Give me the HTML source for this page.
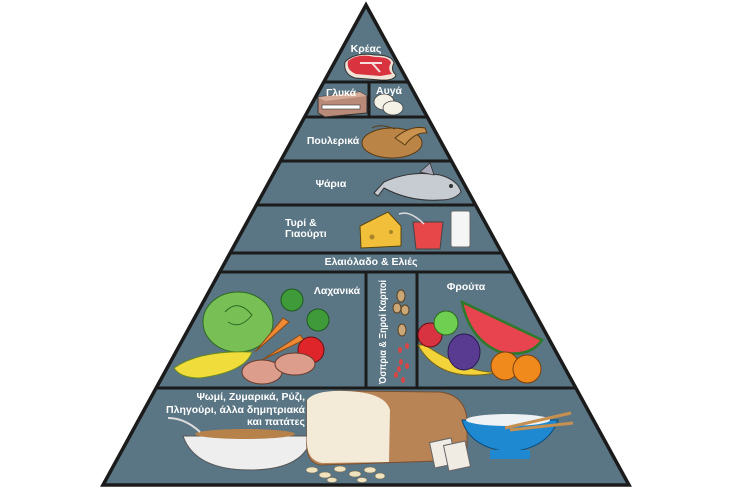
<!DOCTYPE html>
<html><head><meta charset="utf-8"><style>
html,body{margin:0;padding:0;background:#fff;width:730px;height:495px;overflow:hidden}
svg{display:block}
text{font-family:"Liberation Sans","DejaVu Sans",sans-serif;font-weight:bold;fill:#fff;font-size:10.5px}
</style></head><body>
<svg width="730" height="495" viewBox="0 0 730 495" xmlns="http://www.w3.org/2000/svg">
<defs><clipPath id="tri"><polygon points="366,5 103,485 629,485"/></clipPath></defs>
<polygon points="366,5 103,485 629,485" fill="#5a7584"/>
<g clip-path="url(#tri)" stroke="#1b1b1b" stroke-width="3">
<line x1="0" y1="82" x2="730" y2="82"/>
<line x1="0" y1="117" x2="730" y2="117"/>
<line x1="0" y1="161" x2="730" y2="161"/>
<line x1="0" y1="205" x2="730" y2="205"/>
<line x1="0" y1="253" x2="730" y2="253"/>
<line x1="0" y1="272" x2="730" y2="272"/>
<line x1="0" y1="388" x2="730" y2="388"/>
<line x1="369" y1="82" x2="369" y2="117"/>
<line x1="366" y1="272" x2="366" y2="388"/>
<line x1="417" y1="272" x2="417" y2="388"/>
</g>
<polygon points="366,5 103,485 629,485" fill="none" stroke="#1b1b1b" stroke-width="3.5" stroke-linejoin="miter"/>

<!-- steak -->
<path d="M345,62 Q355,52 375,55 Q392,55 394,63 Q390,70 396,75 Q394,81 380,80 L355,78 Q343,74 345,62Z" fill="#f1e3d8" stroke="#333" stroke-width="1"/>
<path d="M348,61 Q358,53 375,57 Q390,57 391,63 Q387,69 392,74 L380,76 L356,74 Q346,70 348,61Z" fill="#d8333f"/>
<path d="M360,63 L382,63 M372,63 L380,72" stroke="#f6dede" stroke-width="2" fill="none"/>
<!-- chocolate -->
<polygon points="318,97 360,92 367,96 367,113 325,117 318,113" fill="#b98a78" stroke="#333" stroke-width="1"/>
<polygon points="318,97 360,92 367,96 325,101" fill="#d6ab98"/>
<rect x="322" y="105" width="38" height="4" fill="#fff" stroke="#333" stroke-width=".6"/>
<!-- eggs -->
<ellipse cx="384" cy="102" rx="10" ry="8" fill="#f4f1e6" stroke="#444" stroke-width=".8"/>
<ellipse cx="393" cy="108" rx="10" ry="7" fill="#f4f1e6" stroke="#444" stroke-width=".8"/>
<!-- turkey -->
<ellipse cx="392" cy="143" rx="30" ry="15" fill="#b98445" stroke="#5a3a15" stroke-width="1"/>
<path d="M395,138 Q410,125 425,128 L427,133 Q415,132 405,145Z" fill="#c9924e" stroke="#5a3a15" stroke-width="1"/>
<path d="M372,128 Q380,123 395,129" stroke="#5a3a15" fill="none"/>
<!-- fish -->
<path d="M374,193 L384,182 Q410,170 440,175 Q458,180 461,192 Q455,200 440,200 Q410,202 384,188 L378,196Z" fill="#c7ccd3" stroke="#333" stroke-width="1"/>
<path d="M420,172 L430,163 L434,175Z" fill="#aab" stroke="#333" stroke-width=".8"/>
<circle cx="451" cy="186" r="2" fill="#333"/>
<!-- cheese/cup/milk -->
<polygon points="360,226 388,212 401,226 401,246 361,248" fill="#f1bf3a" stroke="#5a4510" stroke-width="1"/>
<circle cx="372" cy="237" r="2.5" fill="#a8852a"/><circle cx="391" cy="232" r="2" fill="#a8852a"/>
<path d="M413,222 L443,222 L440,249 L416,249Z" fill="#e8474a" stroke="#444" stroke-width="1"/>
<path d="M399,214 Q410,210 424,224" stroke="#ddd" stroke-width="1.5" fill="none"/>
<rect x="451" y="211" width="19" height="36" rx="2" fill="#f5f5f5" stroke="#666" stroke-width="1"/>
<!-- vegetables -->
<ellipse cx="238" cy="322" rx="35" ry="30" fill="#78bf55" stroke="#2e6a20" stroke-width="1"/>
<path d="M225,312 Q238,298 252,315 Q240,330 228,322" fill="none" stroke="#2e6a20"/>
<circle cx="292" cy="300" r="11" fill="#3f9a3a" stroke="#1f5a1d"/>
<circle cx="318" cy="320" r="11" fill="#3f9a3a" stroke="#1f5a1d"/>
<path d="M255,352 L283,318 L289,322Z" fill="#ee8a35" stroke="#8a4a15"/>
<path d="M262,360 L300,335 L304,340Z" fill="#ee8a35" stroke="#8a4a15"/>
<circle cx="311" cy="350" r="13" fill="#e0252a" stroke="#6a1010"/>
<path d="M174,368 Q200,350 252,352 Q245,372 200,378 Q180,378 174,368Z" fill="#f0dc3a" stroke="#6a8a20"/>
<ellipse cx="262" cy="372" rx="20" ry="12" fill="#dc9d8c" stroke="#6a3a2a"/>
<ellipse cx="295" cy="364" rx="20" ry="11" fill="#dc9d8c" stroke="#6a3a2a"/>
<!-- legumes -->
<ellipse cx="401" cy="296" rx="4" ry="6" fill="#c9a777" stroke="#5a4020"/>
<ellipse cx="397" cy="308" rx="4" ry="5" fill="#c9a777" stroke="#5a4020"/>
<ellipse cx="405" cy="310" rx="4" ry="5" fill="#c9a777" stroke="#5a4020"/>
<ellipse cx="402" cy="330" rx="4" ry="6" fill="#c9a777" stroke="#5a4020"/>
<g fill="#d94545"><ellipse cx="400" cy="350" rx="2" ry="3"/><ellipse cx="407" cy="346" rx="2" ry="3"/><ellipse cx="401" cy="362" rx="2" ry="3"/><ellipse cx="407" cy="366" rx="2" ry="3"/><ellipse cx="396" cy="375" rx="2" ry="3"/><ellipse cx="403" cy="380" rx="2" ry="3"/><ellipse cx="399" cy="369" rx="2" ry="3"/></g>
<!-- fruits -->
<path d="M462,302 L542,340 Q530,358 500,352 Q470,340 462,302Z" fill="#e8444f" stroke="#2e7a2a" stroke-width="2.5"/>
<path d="M418,345 Q440,385 500,372 Q470,375 425,345Z" fill="#f2d43a" stroke="#7a6515"/>
<circle cx="430" cy="335" r="12" fill="#d83340" stroke="#6a1010"/>
<circle cx="446" cy="323" r="12" fill="#6fcf50" stroke="#2e6a20"/>
<ellipse cx="464" cy="352" rx="16" ry="18" fill="#5a3b92" stroke="#2a1a52"/>
<circle cx="505" cy="366" r="14" fill="#f08a1c" stroke="#7a4210"/>
<circle cx="527" cy="369" r="14" fill="#f08a1c" stroke="#7a4210"/>
<!-- grains -->
<path d="M183,436 L312,436 Q305,470 250,470 Q195,470 183,436Z" fill="#eeeeee" stroke="#555"/>
<ellipse cx="245" cy="434" rx="50" ry="5" fill="#b7824a"/>
<path d="M168,418 Q185,418 200,432" stroke="#ddd" stroke-width="2" fill="none"/>
<path d="M307,400 Q320,390 350,391 L440,392 Q465,395 467,420 L467,460 L320,465 Q305,462 307,440Z" fill="#b98455" stroke="#7a5030"/>
<path d="M307,400 Q315,390 345,391 Q385,392 390,410 L389,462 L322,463 Q306,460 307,440Z" fill="#f3ead8"/>
<path d="M462,420 L558,420 Q548,448 510,452 Q470,448 462,420Z" fill="#1e88d0" stroke="#0a4a7a"/>
<ellipse cx="508" cy="420" rx="42" ry="6" fill="#eef2f4"/>
<rect x="490" y="450" width="40" height="9" fill="#1e88d0"/>
<path d="M505,428 L571,413 M510,430 L573,423" stroke="#c69050" stroke-width="3"/>
<rect x="432" y="440" width="22" height="26" fill="#f0ece4" stroke="#666" transform="rotate(-12 443 453)"/>
<rect x="446" y="443" width="22" height="26" fill="#f0ece4" stroke="#666" transform="rotate(-12 457 456)"/>
<g fill="#efe2bf" stroke="#7a6a4a" stroke-width=".5"><ellipse cx="312" cy="470" rx="6" ry="3"/><ellipse cx="325" cy="475" rx="6" ry="3"/><ellipse cx="340" cy="469" rx="6" ry="3"/><ellipse cx="355" cy="474" rx="6" ry="3"/><ellipse cx="370" cy="470" rx="6" ry="3"/><ellipse cx="332" cy="480" rx="5" ry="2.5"/><ellipse cx="362" cy="480" rx="5" ry="2.5"/><ellipse cx="380" cy="476" rx="5" ry="3"/></g>

<!-- labels -->
<text x="366" y="52" text-anchor="middle">Κρέας</text>
<text x="341" y="96" text-anchor="middle">Γλυκά</text>
<text x="389" y="94" text-anchor="middle">Αυγά</text>
<text x="333" y="144" text-anchor="middle">Πουλερικά</text>
<text x="331" y="187" text-anchor="middle">Ψάρια</text>
<text x="285" y="226">Τυρί &amp;</text>
<text x="285" y="237">Γιαούρτι</text>
<text x="371" y="265" text-anchor="middle">Ελαιόλαδο &amp; Ελιές</text>
<text x="337" y="294" text-anchor="middle">Λαχανικά</text>
<text x="466" y="290" text-anchor="middle">Φρούτα</text>
<text transform="translate(386,384) rotate(-90)" font-size="9" textLength="104" lengthAdjust="spacingAndGlyphs">Όσπρια &amp; Ξηροί Καρποί</text>
<text x="305" y="400" text-anchor="end">Ψωμί, Ζυμαρικά, Ρύζι,</text>
<text x="305" y="413" text-anchor="end">Πληγούρι, άλλα δημητριακά</text>
<text x="305" y="425" text-anchor="end">και πατάτες</text>
</svg>
</body></html>
